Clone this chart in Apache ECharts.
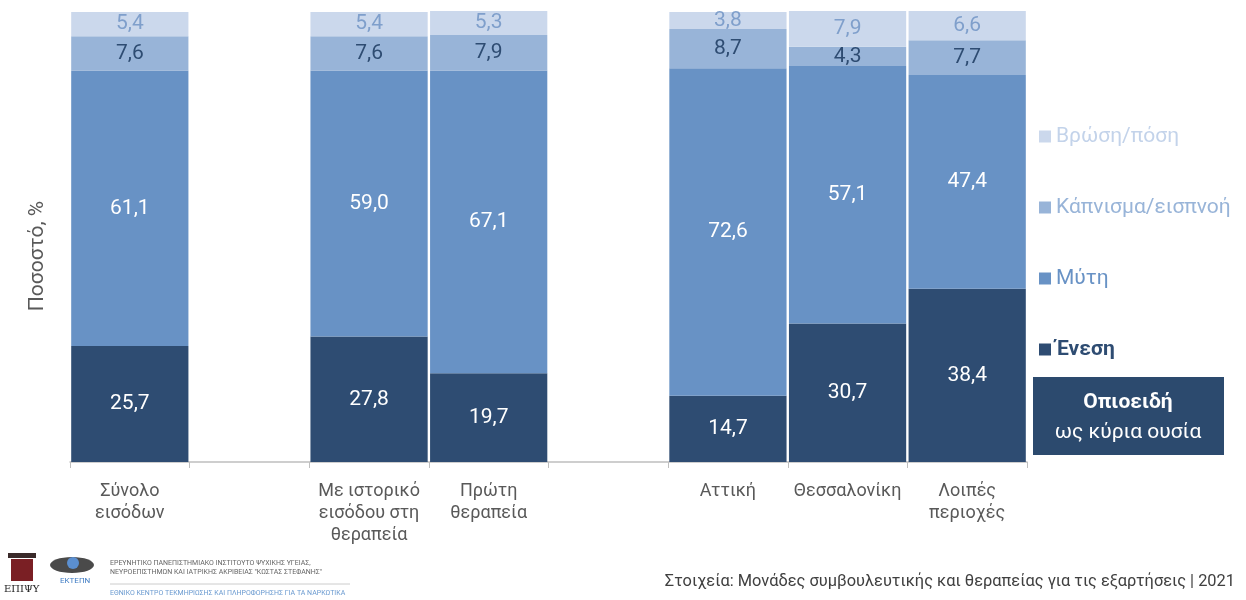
<!DOCTYPE html>
<html>
<head>
<meta charset="utf-8">
<script src="https://cdn.jsdelivr.net/npm/echarts@6/dist/echarts.min.js"></script>
<style>
  html, body { margin: 0; padding: 0; background: #fff; }
  #chart { width: 1246px; height: 600px; }
</style>
</head>
<body>
<div id="chart"></div>
<script>
// κατηγορίες (τα κενά είναι απλώς διαχωριστικά)
const categories = ['Σύνολο\nεισόδων', '', 'Με ιστορικό\nεισόδου στη\nθεραπεία', 'Πρώτη\nθεραπεία', '', 'Αττική', 'Θεσσαλονίκη', 'Λοιπές\nπεριοχές'];

const enesi = [25.7, null, 27.8, 19.7, null, 14.7, 30.7, 38.4];
const myti = [61.1, null, 59.0, 67.1, null, 72.6, 57.1, 47.4];
const kapnisma = [7.6, null, 7.6, 7.9, null, 8.7, 4.3, 7.7];
const vrosi = [5.4, null, 5.4, 5.3, null, 3.8, 7.9, 6.6];

const seriesNames = ['Ένεση', 'Μύτη', 'Κάπνισμα/εισπνοή', 'Βρώση/πόση'];
const colors = ['#2e4c72', '#6892c5', '#98b4d8', '#cbd8ec'];
const labelColors = ['#ffffff', '#ffffff', '#2e4c72', '#7f9fcb'];
const legendTextColors = ['#2e4c72', '#6892c5', '#98b4d8', '#c3d3ea'];

const font = 'Roboto, "Noto Sans", sans-serif';

const fmt = p => (p.value == null ? '' : p.value.toFixed(1).replace('.', ','));

const chart = echarts.init(document.getElementById('chart'));

const series = [enesi, myti, kapnisma, vrosi].map((d, i) => ({
  name: seriesNames[i],
  type: 'bar',
  stack: 'all',
  barCategoryGap: '2%',
  data: d.map(v => (v == null ? '-' : v)),
  itemStyle: { color: colors[i] },
  label: {
    show: true,
    position: 'inside',
    formatter: fmt,
    color: labelColors[i],
    fontFamily: font,
    fontSize: 21
  }
}));

chart.setOption({
  animation: false,
  grid: { left: 70, right: 219, top: 11, bottom: 138 },
  legend: {
    orient: 'vertical',
    left: 1034,
    top: 121,
    itemWidth: 12,
    itemHeight: 12,
    itemGap: 50,
    icon: 'rect',
    data: [3, 2, 1, 0].map(i => ({
      name: seriesNames[i],
      textStyle: {
        color: legendTextColors[i],
        fontSize: 21,
        fontFamily: font,
        fontWeight: i === 0 ? 'bold' : 'normal'
      }
    }))
  },
  xAxis: {
    type: 'category',
    data: categories,
    axisLine: { lineStyle: { color: '#bfbfbf', width: 1.5 } },
    axisTick: { show: true, length: 6, lineStyle: { color: '#bfbfbf' } },
    axisLabel: {
      interval: 0,
      margin: 18,
      color: '#595959',
      fontFamily: font,
      fontSize: 18,
      lineHeight: 22
    }
  },
  yAxis: {
    type: 'value',
    min: 0,
    max: 100,
    axisLine: { show: false },
    axisTick: { show: false },
    axisLabel: { show: false },
    splitLine: { show: false }
  },
  series: series,
  graphic: [
    // τίτλος άξονα
    { type: 'text', x: 38, y: 256, rotation: Math.PI / 2, style: { text: 'Ποσοστό, %', align: 'center', verticalAlign: 'middle', fill: '#595959', fontFamily: font, fontSize: 21 } },
    // πλαίσιο "Οπιοειδή ως κύρια ουσία"
    { type: 'rect', left: 1033, top: 377, shape: { width: 191, height: 78 }, style: { fill: '#2c4a6e' } },
    { type: 'text', x: 1128, y: 403, style: { text: 'Οπιοειδή', align: 'center', verticalAlign: 'middle', fill: '#fff', fontFamily: font, fontSize: 21, fontWeight: 'bold' } },
    { type: 'text', x: 1128, y: 433, style: { text: 'ως κύρια ουσία', align: 'center', verticalAlign: 'middle', fill: '#fff', fontFamily: font, fontSize: 21 } },
    // πηγή
    { type: 'text', right: 11, top: 574, style: { text: 'Στοιχεία: Μονάδες συμβουλευτικής και θεραπείας για τις εξαρτήσεις | 2021', fill: '#404040', fontFamily: font, fontSize: 16.4 } },
    // λογότυπα (απλοποιημένα)
    { type: 'rect', left: 8, top: 553, shape: { width: 28, height: 5 }, style: { fill: '#3a2a2a' } },
    { type: 'rect', left: 11, top: 559, shape: { width: 22, height: 22 }, style: { fill: '#7a1f24' } },
    { type: 'text', left: 4, top: 584, style: { text: 'ΕΠΙΨΥ', fill: '#222', fontFamily: '"DejaVu Serif", serif', fontSize: 10 } },
    { type: 'ellipse', left: 50, top: 557, shape: { rx: 22, ry: 8 }, style: { fill: '#4a4a4a' } },
    { type: 'circle', left: 67, top: 557, shape: { r: 6 }, style: { fill: '#5b8fd0' } },
    { type: 'text', left: 60, top: 577, style: { text: 'ΕΚΤΕΠΝ', fill: '#3f7cc4', fontFamily: font, fontSize: 8 } },
    { type: 'text', left: 110, top: 560, style: { text: 'ΕΡΕΥΝΗΤΙΚΟ ΠΑΝΕΠΙΣΤΗΜΙΑΚΟ ΙΝΣΤΙΤΟΥΤΟ ΨΥΧΙΚΗΣ ΥΓΕΙΑΣ,', fill: '#666', fontFamily: font, fontSize: 7 } },
    { type: 'text', left: 110, top: 569, style: { text: 'ΝΕΥΡΟΕΠΙΣΤΗΜΩΝ ΚΑΙ ΙΑΤΡΙΚΗΣ ΑΚΡΙΒΕΙΑΣ "ΚΩΣΤΑΣ ΣΤΕΦΑΝΗΣ"', fill: '#666', fontFamily: font, fontSize: 7 } },
    { type: 'line', shape: { x1: 110, y1: 584, x2: 350, y2: 584 }, style: { stroke: '#cccccc', lineWidth: 1 } },
    { type: 'text', left: 110, top: 590, style: { text: 'ΕΘΝΙΚΟ ΚΕΝΤΡΟ ΤΕΚΜΗΡΙΩΣΗΣ ΚΑΙ ΠΛΗΡΟΦΟΡΗΣΗΣ ΓΙΑ ΤΑ ΝΑΡΚΩΤΙΚΑ', fill: '#6a9ad0', fontFamily: font, fontSize: 7 } }
  ]
});
</script>
</body>
</html>
